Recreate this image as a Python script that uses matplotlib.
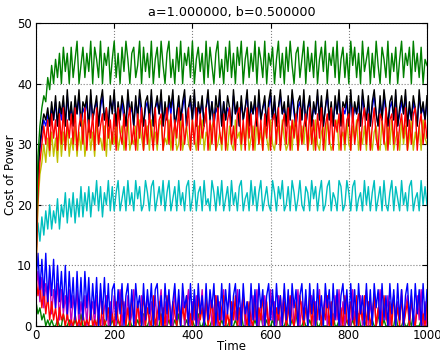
import numpy as np
import matplotlib
matplotlib.use("Agg")
import matplotlib.pyplot as plt

title = "a=1.000000, b=0.500000"
xlabel = "Time"
ylabel = "Cost of Power"
xticks = [0, 200, 400, 600, 800, 1000]
yticks = [0, 10, 20, 30, 40, 50]

green_hi = [12, 28, 33, 36, 38, 37, 41, 39, 43, 40, 44, 41, 45, 40, 46, 42, 45, 40, 46, 41,
            44, 47, 40, 43, 46, 41, 45, 42, 47, 40, 46, 44, 41, 47, 40, 45, 43, 46, 40, 44,
            47, 41, 45, 40, 46, 42, 47, 44, 40, 45, 46, 41, 43, 47, 40, 46, 42, 45, 41, 47,
            40, 44, 46, 41, 47, 43, 40, 45, 47, 41, 44, 40, 46, 42, 47, 40, 45, 43, 46, 41,
            47, 40, 44, 46, 42, 45, 40, 47, 41, 46, 43, 40, 45, 47, 41, 44, 40, 46, 42, 47,
            41, 45, 40, 46, 43, 47, 40, 44, 46, 41, 45, 42, 47, 40, 46, 44, 41, 47, 40, 45,
            43, 46, 40, 44, 47, 41, 45, 40, 46, 42, 47, 43, 40, 45, 46, 41, 44, 47, 40, 46,
            42, 45, 41, 47, 40, 44, 46, 42, 47, 40, 45, 43, 46, 41, 47, 40, 44, 46, 41, 45,
            40, 47, 43, 46, 41, 45, 40, 47, 42, 44, 46, 40, 45, 41, 47, 43, 40, 46, 44, 41,
            47, 40, 45, 42, 46, 40, 44, 47, 41, 45, 43, 46, 40, 47, 42, 45, 41, 46, 40, 44,
            43]
black_hi = [10, 25, 30, 33, 35, 34, 36, 33, 37, 34, 38, 33, 37, 35, 38, 33, 39, 34, 37, 33,
            38, 35, 39, 33, 37, 36, 38, 32, 39, 34, 36, 38, 33, 37, 39, 34, 36, 33, 38, 35,
            39, 33, 37, 34, 38, 36, 33, 39, 35, 37, 33, 38, 34, 39, 36, 33, 37, 38, 34, 39,
            33, 36, 38, 35, 39, 33, 37, 34, 38, 36, 39, 33, 35, 38, 34, 37, 39, 33, 36, 38,
            34, 39, 33, 37, 35, 38, 33, 36, 39, 34, 37, 33, 38, 35, 39, 33, 37, 34, 38, 36,
            33, 39, 35, 37, 33, 38, 34, 36, 39, 33, 37, 35, 38, 33, 39, 34, 36, 38, 33, 37,
            39, 34, 38, 33, 36, 39, 35, 37, 33, 38, 34, 39, 36, 33, 37, 38, 34, 39, 33, 36,
            38, 33, 37, 35, 39, 34, 38, 33, 36, 39, 34, 37, 33, 38, 35, 39, 33, 37, 36, 38,
            33, 39, 34, 37, 35, 38, 33, 39, 36, 34, 38, 33, 37, 39, 35, 33, 38, 34, 39, 36,
            33, 37, 38, 34, 39, 33, 36, 38, 35, 39, 33, 37, 34, 38, 36, 33, 39, 35, 37, 34,
            38]
blue_hi = [13, 24, 29, 32, 34, 33, 35, 33, 36, 34, 37, 33, 36, 34, 37, 33, 38, 34, 36, 33,
           37, 35, 38, 33, 36, 35, 37, 33, 38, 34, 36, 37, 33, 36, 38, 34, 35, 33, 37, 36,
           38, 33, 36, 35, 37, 34, 33, 38, 35, 36, 33, 37, 35, 38, 34, 33, 36, 37, 34, 38,
           33, 36, 37, 35, 38, 33, 36, 34, 37, 35, 38, 33, 35, 37, 34, 36, 38, 33, 36, 37,
           34, 38, 33, 36, 35, 37, 33, 36, 38, 34, 37, 33, 36, 35, 38, 33, 37, 34, 36, 35,
           33, 38, 35, 36, 33, 37, 34, 36, 38, 33, 36, 35, 37, 33, 38, 34, 36, 37, 33, 36,
           38, 34, 37, 33, 36, 38, 35, 36, 33, 37, 34, 38, 35, 33, 36, 37, 34, 38, 33, 36,
           37, 33, 36, 35, 38, 34, 37, 33, 36, 38, 34, 36, 33, 37, 35, 38, 33, 36, 35, 37,
           33, 38, 34, 36, 35, 37, 33, 38, 35, 34, 37, 33, 36, 38, 35, 33, 37, 34, 38, 35,
           33, 36, 37, 34, 38, 33, 35, 37, 35, 38, 33, 36, 34, 37, 35, 33, 38, 35, 36, 34,
           37]
red_hi = [9, 22, 27, 30, 33, 30, 34, 29, 35, 31, 34, 29, 35, 30, 36, 29, 34, 31, 35, 30,
          36, 29, 33, 35, 30, 36, 29, 34, 31, 35, 29, 36, 30, 33, 35, 29, 36, 31, 34, 30,
          35, 29, 36, 32, 30, 35, 29, 34, 36, 30, 33, 29, 35, 31, 36, 29, 34, 30, 35, 32,
          29, 36, 30, 34, 35, 29, 33, 36, 30, 35, 29, 34, 31, 36, 29, 35, 30, 33, 36, 29,
          34, 30, 36, 29, 35, 31, 33, 36, 29, 34, 30, 35, 29, 36, 32, 30, 35, 29, 34, 36,
          30, 33, 29, 35, 36, 30, 34, 29, 36, 31, 35, 29, 33, 36, 30, 34, 29, 35, 31, 36,
          29, 34, 35, 30, 36, 29, 33, 35, 30, 36, 29, 34, 31, 35, 29, 36, 30, 33, 35, 29,
          36, 30, 34, 29, 35, 31, 36, 29, 33, 35, 30, 36, 29, 34, 32, 35, 29, 36, 30, 34,
          35, 29, 36, 30, 33, 35, 29, 34, 36, 30, 35, 29, 33, 36, 31, 29, 35, 34, 30, 36,
          29, 34, 35, 30, 36, 29, 33, 35, 31, 36, 29, 34, 30, 35, 36, 29, 33, 35, 30, 34,
          31]
yellow_hi = [8, 20, 25, 27, 30, 27, 31, 28, 32, 28, 31, 27, 33, 28, 32, 29, 33, 28, 31, 29,
             33, 28, 32, 29, 34, 28, 31, 33, 29, 32, 28, 34, 30, 31, 29, 33, 28, 34, 29, 32,
             30, 34, 29, 31, 33, 29, 32, 34, 29, 31, 30, 33, 29, 34, 31, 29, 32, 33, 29, 34,
             30, 32, 29, 33, 34, 29, 31, 30, 34, 29, 32, 33, 29, 30, 34, 29, 31, 33, 30, 29,
             34, 31, 29, 33, 30, 34, 29, 32, 31, 29, 33, 34, 29, 30, 32, 29, 34, 31, 29, 33,
             30, 29, 34, 31, 32, 29, 33, 30, 34, 29, 31, 33, 29, 34, 30, 32, 29, 33, 31, 29,
             34, 30, 29, 32, 33, 29, 34, 31, 29, 30, 33, 29, 34, 32, 29, 31, 33, 30, 34, 29,
             31, 33, 29, 34, 30, 29, 32, 33, 29, 34, 31, 29, 30, 33, 34, 29, 31, 32, 29, 34,
             30, 29, 33, 31, 34, 29, 32, 30, 33, 29, 34, 31, 29, 32, 33, 30, 29, 34, 31, 29,
             33, 30, 34, 29, 31, 32, 29, 34, 30, 33, 29, 31, 34, 29, 32, 30, 33, 29, 34, 31,
             30]
cyan_mid = [12, 17, 14, 18, 15, 19, 16, 20, 16, 19, 17, 21, 16, 20, 18, 22, 17, 21, 18, 22,
            17, 21, 18, 23, 18, 22, 19, 23, 18, 22, 20, 24, 19, 23, 18, 22, 20, 24, 19, 23,
            19, 22, 24, 19, 21, 23, 19, 24, 20, 22, 19, 24, 21, 23, 19, 20, 24, 22, 19, 23,
            24, 19, 21, 23, 20, 24, 19, 22, 24, 19, 21, 23, 19, 24, 20, 22, 19, 23, 24, 19,
            21, 24, 19, 22, 23, 19, 24, 20, 21, 19, 24, 22, 19, 23, 20, 24, 19, 21, 23, 19,
            24, 20, 22, 19, 23, 24, 19, 21, 22, 19, 24, 20, 23, 19, 22, 24, 19, 21, 23, 20,
            19, 24, 22, 19, 23, 21, 24, 19, 20, 23, 19, 24, 22, 19, 21, 24, 20, 19, 23, 22,
            19, 24, 21, 23, 19, 22, 24, 19, 20, 23, 24, 19, 22, 21, 19, 24, 23, 19, 20, 24,
            22, 19, 23, 24, 19, 21, 22, 19, 24, 20, 23, 19, 22, 24, 19, 21, 23, 19, 24, 20,
            19, 22, 24, 19, 23, 21, 19, 24, 20, 22, 19, 23, 24, 19, 21, 22, 19, 24, 20, 23,
            20]
blue_lo = [7, 12, 6, 11, 5, 12, 4, 10, 5, 11, 3, 10, 4, 9, 3, 10, 2, 9, 3, 8,
           1, 9, 2, 8, 1, 9, 3, 8, 1, 7, 2, 8, 0, 7, 2, 8, 1, 7, 0, 6,
           7, 1, 6, 2, 7, 0, 5, 7, 1, 6, 0, 7, 3, 5, 0, 7, 1, 6, 2, 7,
           0, 6, 7, 1, 5, 0, 7, 2, 6, 0, 4, 7, 1, 6, 0, 7, 3, 5, 0, 7,
           1, 6, 0, 7, 2, 5, 0, 7, 1, 6, 3, 7, 0, 5, 1, 7, 0, 6, 2, 7,
           0, 5, 7, 1, 6, 0, 7, 2, 4, 0, 7, 1, 6, 0, 7, 3, 6, 0, 5, 7,
           1, 6, 0, 7, 2, 5, 0, 7, 1, 6, 0, 7, 3, 6, 0, 5, 7, 1, 6, 0,
           7, 2, 6, 0, 7, 1, 5, 0, 7, 3, 6, 0, 7, 1, 6, 0, 5, 7, 2, 6,
           0, 7, 1, 6, 0, 7, 2, 5, 0, 7, 1, 6, 0, 7, 3, 6, 0, 7, 1, 5,
           0, 7, 2, 6, 0, 7, 1, 6, 0, 5, 7, 1, 6, 0, 7, 2, 6, 0, 7, 1,
           6]
red_lo = [8, 5, 7, 3, 6, 2, 5, 1, 4, 1, 3, 0, 3, 1, 2, 0, 2, 0, 1, 0,
          2, 0, 1, 0, 2, 0, 1, 0, 3, 0, 1, 0, 2, 0, 4, 0, 1, 3, 0, 2,
          0, 4, 1, 0, 5, 2, 0, 3, 0, 5, 1, 0, 4, 0, 2, 5, 0, 3, 1, 0,
          5, 0, 2, 4, 0, 3, 0, 5, 1, 0, 4, 2, 0, 5, 0, 3, 1, 5, 0, 2,
          0, 4, 0, 5, 1, 3, 0, 5, 0, 2, 4, 0, 5, 1, 0, 3, 5, 0, 2, 0,
          4, 1, 5, 0, 3, 0, 5, 2, 0, 4, 1, 0, 5, 0, 3, 1, 5, 0, 4, 0,
          2, 5, 0, 3, 1, 5, 0, 4, 0, 2, 5, 1, 0, 4, 0, 5, 2, 0, 3, 1,
          5, 0, 4, 0, 2, 5, 0, 3, 1, 5, 0, 4, 0, 2, 5, 0, 3, 0, 5, 1,
          0, 4, 2, 0, 5, 0, 3, 1, 5, 0, 4, 0, 2, 5, 0, 3, 1, 0, 5, 2,
          0, 4, 0, 5, 1, 3, 0, 5, 0, 2, 4, 0, 5, 1, 0, 3, 5, 0, 2, 0,
          4]
magenta_lo = [6, 9, 4, 8, 3, 7, 4, 8, 2, 6, 3, 7, 1, 6, 2, 5, 1, 6, 0, 5,
              2, 6, 0, 4, 1, 5, 0, 6, 2, 4, 0, 5, 1, 6, 0, 3, 5, 0, 4, 1,
              5, 0, 3, 6, 0, 4, 1, 5, 0, 2, 6, 0, 4, 1, 5, 0, 3, 5, 0, 4,
              1, 5, 0, 3, 6, 0, 4, 0, 5, 2, 0, 6, 1, 4, 0, 5, 0, 3, 6, 0,
              4, 1, 5, 0, 2, 6, 0, 4, 1, 5, 0, 3, 5, 0, 4, 1, 6, 0, 3, 5,
              0, 4, 1, 6, 0, 3, 5, 0, 4, 2, 0, 5, 1, 6, 0, 4, 0, 5, 2, 0,
              6, 1, 4, 0, 5, 0, 3, 6, 0, 4, 1, 5, 0, 2, 6, 0, 4, 1, 5, 0,
              3, 5, 0, 4, 1, 6, 0, 3, 5, 0, 4, 2, 0, 5, 1, 6, 0, 4, 0, 5,
              2, 0, 6, 1, 4, 0, 5, 0, 3, 6, 0, 4, 1, 5, 0, 2, 6, 0, 4, 1,
              5, 0, 3, 5, 0, 4, 1, 6, 0, 3, 5, 0, 4, 2, 0, 5, 1, 6, 0, 4,
              0]
green_lo = [4, 2, 3, 1, 2, 0, 1, 0, 1, 0, 0, 1, 0, 0, 2, 0, 0, 1, 0, 0,
            1, 0, 0, 2, 0, 0, 1, 0, 0, 0, 1, 0, 2, 0, 0, 1, 0, 0, 0, 1,
            0, 0, 1, 0, 0, 2, 0, 0, 1, 0, 0, 0, 1, 0, 0, 2, 0, 0, 1, 0,
            0, 1, 0, 0, 2, 0, 0, 0, 1, 0, 0, 1, 0, 2, 0, 0, 0, 1, 0, 0,
            1, 0, 0, 2, 0, 0, 1, 0, 0, 0, 1, 0, 2, 0, 0, 1, 0, 0, 0, 1,
            0, 0, 1, 0, 0, 2, 0, 0, 1, 0, 0, 0, 1, 0, 0, 2, 0, 0, 1, 0,
            0, 1, 0, 0, 2, 0, 0, 0, 1, 0, 0, 1, 0, 2, 0, 0, 0, 1, 0, 0,
            1, 0, 0, 2, 0, 0, 1, 0, 0, 0, 1, 0, 2, 0, 0, 1, 0, 0, 0, 1,
            0, 0, 1, 0, 0, 2, 0, 0, 1, 0, 0, 0, 1, 0, 0, 2, 0, 0, 1, 0,
            0, 1, 0, 0, 2, 0, 0, 0, 1, 0, 0, 1, 0, 2, 0, 0, 0, 1, 0, 0,
            0]

series = [
    (green_lo, "#008000"),
    (magenta_lo, "#bf00bf"),
    (red_lo, "#ff0000"),
    (blue_lo, "#0000ff"),
    (cyan_mid, "#00bfbf"),
    (yellow_hi, "#bfbf00"),
    (blue_hi, "#0000ff"),
    (black_hi, "#000000"),
    (red_hi, "#ff0000"),
    (green_hi, "#008000"),
]

fig = plt.figure(figsize=(4.4, 3.53), dpi=100)
ax = fig.add_axes([36 / 440, 27 / 353, 391 / 440, 303 / 353])
for vals, col in series:
    x = np.linspace(0, 1000, len(vals))
    ax.plot(x, vals, color=col, linewidth=1.0)

ax.set_xlim(0, 1000)
ax.set_ylim(0, 50)
ax.set_xticks(xticks)
ax.set_yticks(yticks)
ax.grid(True, linestyle=":", color="#808080", linewidth=0.8)
ax.tick_params(direction="in", top=True, right=True, labelsize=8.5)
ax.tick_params(axis="x", pad=2)
ax.tick_params(axis="y", pad=3)
ax.set_title(title, fontsize=9.2, pad=5)
ax.set_xlabel(xlabel, fontsize=8.5, labelpad=-1)
ax.set_ylabel(ylabel, fontsize=8.5, labelpad=0)
fig.savefig("out.png", dpi=100)
